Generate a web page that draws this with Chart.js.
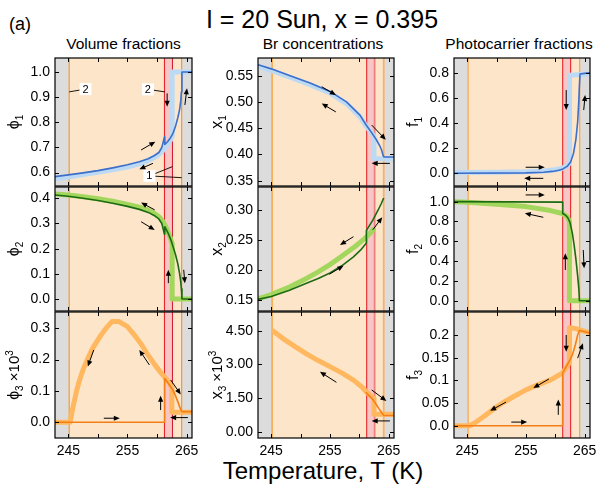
<!DOCTYPE html>
<html><head><meta charset="utf-8">
<script src="https://cdn.jsdelivr.net/npm/chart.js@4.4.1/dist/chart.umd.min.js"></script>
<style>
html,body{margin:0;padding:0;background:#fff;}
body{width:598px;height:487px;position:relative;overflow:hidden;font-family:"Liberation Sans",Arial,sans-serif;color:#000;}
.txt{position:absolute;transform:translate(-50%,-50%);white-space:nowrap;line-height:1;}
canvas{position:absolute;}
</style></head>
<body>
<div class="txt" style="left:20px;top:24px;font-size:18px;">(a)</div>
<div class="txt" style="left:322px;top:19px;font-size:25px;">I = 20 Sun, x = 0.395</div>
<div class="txt" style="left:123.5px;top:44px;font-size:15.5px;">Volume fractions</div>
<div class="txt" style="left:323px;top:44px;font-size:15.5px;">Br concentrations</div>
<div class="txt" style="left:519px;top:44px;font-size:15.5px;">Photocarrier fractions</div>
<div class="txt" style="left:323px;top:471px;font-size:24px;">Temperature, T (K)</div>
<script>
// ---------- data ----------
const Tmin = 242.75, Tmax = 265.9;
const xTickValues = [245, 250, 255, 260, 265];
const xTickLabels = ['245', '', '255', '', '265'];
const transitionT = [245.15, 261.25, 262.6, 264.15];

// volume fractions
const phi1HeatT = [242.75,245,247.5,250,252.5,255,257,258.5,259.5,260.3,260.8,261.25,261.3,261.8,262.3,262.7,263.1,263.5,263.8,264.0,264.1,264.2,265.9];
const phi1Heat  = [0.584,0.591,0.599,0.608,0.619,0.631,0.643,0.655,0.667,0.68,0.70,0.742,0.712,0.724,0.74,0.757,0.783,0.818,0.85,0.885,0.92,1.0,1.0];
const phi1CoolT = [242.75,245,247.5,250,252.5,255,257,258.5,259.5,260.3,261.0,261.6,262.2,262.55,262.55,265.9];
const phi1Cool  = [0.577,0.583,0.592,0.601,0.611,0.622,0.635,0.648,0.66,0.672,0.688,0.705,0.727,0.745,1.0,1.0];

const phi2HeatT = phi1HeatT;
const phi2Heat  = [0.413,0.408,0.4,0.391,0.38,0.368,0.356,0.344,0.332,0.318,0.300,0.257,0.287,0.265,0.237,0.208,0.178,0.14,0.102,0.068,0.04,0.0,0.0];
const phi2CoolT = [242.75,245,247.5,250,252.5,255,257,258.5,259.5,260.3,261.0,261.6,262.2,262.55,262.55,265.9];
const phi2Cool  = [0.417,0.413,0.406,0.398,0.388,0.376,0.365,0.353,0.341,0.327,0.307,0.28,0.245,0.22,0.0,0.0];

const phi3HeatT = [242.75,261.25,261.28,261.8,262.3,262.7,263.1,263.5,263.8,264.0,264.2,265.9];
const phi3Heat  = [0,0,0.14,0.127,0.113,0.102,0.085,0.066,0.05,0.04,0.034,0.034];
const phi3CoolT = [242.75,245.3,245.6,245.9,246.4,246.9,247.5,248.2,249.1,250.4,251.5,252.4,253.5,255,256.1,257.3,258.4,259.6,260.7,261.9,262.5,262.5,265.9];
const phi3Cool  = [0,0,0.03,0.058,0.1,0.135,0.168,0.2,0.236,0.275,0.303,0.322,0.322,0.305,0.28,0.25,0.217,0.184,0.157,0.13,0.112,0.032,0.032];

// Br concentrations
const x1HeatT = [242.75,245,248.2,251.6,255,257.8,260.1,261.1,262,262.9,263.5,263.8,264.05,264.2,265.9];
const x1Heat  = [0.571,0.563,0.55,0.536,0.52,0.5,0.475,0.457,0.443,0.428,0.416,0.408,0.398,0.395,0.395];
const x1CoolT = [242.75,245,248.2,251.6,255,257.8,260.1,261.1,262,262.5,262.5,265.9];
const x1Cool  = [0.568,0.56,0.547,0.533,0.517,0.497,0.472,0.455,0.442,0.434,0.392,0.392];

const x2HeatT = [242.75,245,248,251,253,255,257,259,260.2,261.2,261.2,262.3,263.2,263.7,264.15];
const x2Heat  = [0.151,0.156,0.166,0.178,0.186,0.195,0.207,0.222,0.233,0.245,0.266,0.283,0.3,0.31,0.32];
const x2CoolT = [242.75,245,248.2,251,253,255,257,259.5,261.1,262,262.5];
const x2Cool  = [0.152,0.159,0.172,0.186,0.197,0.209,0.223,0.241,0.254,0.263,0.27];

const x3HeatT = [261.1,261.6,262.1,262.5,262.9,263.3,263.7,264.0,264.2,265.9];
const x3Heat  = [1.76,1.62,1.49,1.36,1.2,1.04,0.89,0.78,0.72,0.72];
const x3CoolT = [245.15,247,249,251,253,255,257,259,260.5,261.1,261.8,262.5,262.5,265.9];
const x3Cool  = [4.52,4.15,3.8,3.47,3.17,2.9,2.62,2.3,1.98,1.8,1.63,1.48,0.78,0.78];

// photocarrier fractions
const f1HeatT = [242.75,255,258,259.5,260.6,261.3,262,262.6,263.1,263.5,263.8,264.0,264.1,264.2,265,265.9];
const f1Heat  = [0.0,0.003,0.008,0.015,0.024,0.035,0.055,0.09,0.16,0.27,0.41,0.58,0.7,0.79,0.795,0.8];
const f1CoolT = [242.75,250,255,258,260,261.3,262,262.4,262.4,265.9];
const f1Cool  = [0.006,0.008,0.012,0.018,0.028,0.042,0.06,0.078,0.78,0.79];

const f2HeatT = [242.75,261.25,261.25,261.7,262.1,262.5,262.9,263.2,263.5,263.8,264.0,264.1,265.9];
const f2Heat  = [1.0,0.995,0.88,0.865,0.84,0.79,0.68,0.56,0.42,0.25,0.12,0.0,0.0];
const f2CoolT = [242.75,245,250,255,259.2,261.2,262,262.4,262.4,265.9];
const f2Cool  = [1.0,0.995,0.975,0.95,0.91,0.88,0.85,0.8,0.0,0.0];

const f3HeatT = [242.75,261.25,261.25,262,262.5,262.9,263.4,263.8,264.1,265,265.9];
const f3Heat  = [0,0,0.116,0.134,0.145,0.156,0.178,0.2,0.21,0.207,0.204];
const f3CoolT = [242.75,245.4,246.5,248,249.5,251,253,255,257,259.2,261.2,262,262.4,262.4,263.5,264.2,265.9];
const f3Cool  = [0,0,0.008,0.022,0.037,0.05,0.065,0.079,0.09,0.101,0.116,0.13,0.14,0.216,0.214,0.211,0.205];

// y tick values and labels
const phi1Ticks = [0.6,0.7,0.8,0.9,1.0], phi1Labels = ['0.6','0.7','0.8','0.9','1.0'];
const phi2Ticks = [0,0.1,0.2,0.3,0.4],   phi2Labels = ['0.0','0.1','0.2','0.3','0.4'];
const phi3Ticks = [0,0.1,0.2,0.3],       phi3Labels = ['0.0','0.1','0.2','0.3'];
const x1Ticks = [0.35,0.40,0.45,0.50,0.55], x1Labels = ['0.35','0.40','0.45','0.50','0.55'];
const x2Ticks = [0.15,0.20,0.25,0.30],      x2Labels = ['0.15','0.20','0.25','0.30'];
const x3Ticks = [0,1.5,3,4.5],              x3Labels = ['0.00','1.50','3.00','4.50'];
const f1Ticks = [0,0.2,0.4,0.6,0.8],     f1Labels = ['0.0','0.2','0.4','0.6','0.8'];
const f2Ticks = [0,0.2,0.4,0.6,0.8,1.0], f2Labels = ['0.0','0.2','0.4','0.6','0.8','1.0'];
const f3Ticks = [0,0.05,0.1,0.15,0.2],   f3Labels = ['0.0','0.05','0.1','0.15','0.2'];

// annotation arrows [T1, v1, T2, v2]
const phi1Arrows = [[257.3,0.69,259.7,0.723],[259.3,0.637,257.0,0.613],[261.7,0.915,261.7,0.862],[264.7,0.869,265.05,0.935]];
const phi2Arrows = [[259.6,0.354,257.3,0.383],[257.3,0.307,259.6,0.274],[261.9,0.063,261.9,0.116],[264.5,0.116,264.7,0.063]];
const phi3Arrows = [[249.3,0.231,248.3,0.178],[258.7,0.183,257.0,0.231],[251.0,0.013,253.7,0.013],[260.6,0.039,260.6,0.085],[262.3,0.135,264.0,0.089],[265.2,0.015,262.2,0.015]];
const x1Arrows = [[253.6,0.529,256.0,0.513],[256.0,0.481,253.6,0.497],[262.1,0.456,264.5,0.428],[265.2,0.383,262.1,0.383]];
const x2Arrows = [[259.0,0.2555,256.7,0.2417],[254.9,0.193,257.3,0.207],[262.3,0.267,263.9,0.288]];
const x3Arrows = [[256.1,2.2,253.3,2.67],[262.1,1.86,264.6,1.37],[265.2,0.48,262.1,0.48]];
const f1Arrows = [[254.95,0.048,258.2,0.048],[257.95,-0.04,254.7,-0.04],[261.85,0.662,261.85,0.503],[264.83,0.503,265.07,0.622]];
const f2Arrows = [[254.95,1.068,258.2,1.068],[257.95,0.842,254.8,0.883],[261.7,0.31,261.7,0.479],[264.75,0.512,264.9,0.327]];
const f3Arrows = [[258.9,0.103,256.25,0.083],[251.6,0.052,248.9,0.033],[252.5,0.008,255.2,0.008],[260.5,0.024,260.5,0.058],[261.85,0.2,261.85,0.163],[263.8,0.149,264.7,0.182]];

// numbered labels in the first panel
const phi1Notes = [
  {text:'2', at:[247.9,0.932], to:[[245.15,0.921]]},
  {text:'2', at:[258.45,0.931], to:[[261.3,0.921]]},
  {text:'1', at:[258.7,0.587], to:[[262.6,0.624],[264.15,0.58]]}
];

// ---------- style / layout ----------
const FONT = '"Liberation Sans", Arial, "DejaVu Sans", sans-serif';
const C = {
  blue:'#3d6ec9', lblue:'#bddaf5', green:'#1c6b12', lgreen:'#a2d65c', orange:'#f57f17', lorange:'#ffb85f',
  gray:'#dcdcdc', peach:'#fde5c9', pink:'#f9c6c6'
};
const colL = [55, 258, 454], colR = [192, 394, 590];
const rowT = [58, 187, 312], rowB = [186, 311, 438];
const lineColors = [
  ['#f7941d','#e8262c','#d42036','#f7941d'],
  ['#f7941d','#e8262c','#f08080','#f7b26a'],
  ['#f7a040','#e8262c','#e8262c','#f7a040']
];
const AXW = 52, PADR = 16, PADTB = 16, XAXH = 30;

function pts(T, v){ return T.map((t,i)=>({x:t, y:v[i]})); }

const panels = [
  {col:0,row:0,min:0.5469,max:1.0556,ticks:phi1Ticks,labels:phi1Labels,title:[['ϕ',16],['1',10,4]],
   series:[[phi1HeatT,phi1Heat,C.blue,1.6],[phi1CoolT,phi1Cool,C.lblue,5]],arrows:phi1Arrows,notes:phi1Notes},
  {col:0,row:1,min:-0.0477,max:0.4449,ticks:phi2Ticks,labels:phi2Labels,title:[['ϕ',16],['2',10,4]],
   series:[[phi2HeatT,phi2Heat,C.green,1.6],[phi2CoolT,phi2Cool,C.lgreen,5]],arrows:phi2Arrows},
  {col:0,row:2,min:-0.0501,max:0.352,ticks:phi3Ticks,labels:phi3Labels,title:[['ϕ',16],['3',10,4],[' ×10',15],['3',10,-6]],
   series:[[phi3HeatT,phi3Heat,C.orange,1.6],[phi3CoolT,phi3Cool,C.lorange,5]],arrows:phi3Arrows},
  {col:1,row:0,min:0.3399,max:0.5837,ticks:x1Ticks,labels:x1Labels,title:[['x',16],['1',10,4]],
   series:[[x1HeatT,x1Heat,C.blue,1.6],[x1CoolT,x1Cool,C.lblue,5]],arrows:x1Arrows},
  {col:1,row:1,min:0.1317,max:0.3383,ticks:x2Ticks,labels:x2Labels,title:[['x',16],['2',10,4]],
   series:[[x2HeatT,x2Heat,C.green,1.6],[x2CoolT,x2Cool,C.lgreen,5]],arrows:x2Arrows},
  {col:1,row:2,min:-0.281,max:5.333,ticks:x3Ticks,labels:x3Labels,title:[['x',16],['3',10,4],[' ×10',15],['3',10,-6]],
   series:[[x3HeatT,x3Heat,C.orange,1.6],[x3CoolT,x3Cool,C.lorange,5]],arrows:x3Arrows},
  {col:2,row:0,min:-0.101,max:0.917,ticks:f1Ticks,labels:f1Labels,title:[['f',16],['1',10,4]],
   series:[[f1HeatT,f1Heat,C.blue,1.6],[f1CoolT,f1Cool,C.lblue,5]],arrows:f1Arrows},
  {col:2,row:1,min:-0.104,max:1.148,ticks:f2Ticks,labels:f2Labels,title:[['f',16],['2',10,4]],
   series:[[f2HeatT,f2Heat,C.green,1.6],[f2CoolT,f2Cool,C.lgreen,5]],arrows:f2Arrows},
  {col:2,row:2,min:-0.0271,max:0.2507,ticks:f3Ticks,labels:f3Labels,title:[['f',16],['3',10,4]],
   series:[[f3HeatT,f3Heat,C.orange,1.6],[f3CoolT,f3Cool,C.lorange,5]],arrows:f3Arrows}
];

function drawArrow(ctx, x1, y1, x2, y2){
  const a = Math.atan2(y2-y1, x2-x1), hl = 6, hw = 2.6;
  ctx.beginPath(); ctx.moveTo(x1,y1);
  ctx.lineTo(x2-hl*0.7*Math.cos(a), y2-hl*0.7*Math.sin(a)); ctx.stroke();
  ctx.beginPath(); ctx.moveTo(x2,y2);
  ctx.lineTo(x2-hl*Math.cos(a)+hw*Math.sin(a), y2-hl*Math.sin(a)-hw*Math.cos(a));
  ctx.lineTo(x2-hl*Math.cos(a)-hw*Math.sin(a), y2-hl*Math.sin(a)+hw*Math.cos(a));
  ctx.closePath(); ctx.fill();
}

function drawRich(ctx, cx, cy, parts){
  ctx.save(); ctx.translate(cx, cy); ctx.rotate(-Math.PI/2);
  ctx.textBaseline = 'alphabetic'; ctx.textAlign = 'left'; ctx.fillStyle = '#000';
  let total = 0; const w = [];
  parts.forEach((p,i)=>{ ctx.font = p[1]+'px '+FONT; w[i] = ctx.measureText(p[0]).width; total += w[i]; });
  let x = -total/2;
  parts.forEach((p,i)=>{ ctx.font = p[1]+'px '+FONT; ctx.fillText(p[0], x, 5 + (p[2]||0)); x += w[i]; });
  ctx.restore();
}

function makeDeco(p){
  const lc = lineColors[p.col];
  return {
    id:'deco'+p.col+p.row,
    beforeDatasetsDraw(chart){
      const {ctx, chartArea:{left,right,top,bottom}, scales:{x}} = chart;
      ctx.save();
      ctx.beginPath(); ctx.rect(left, top, right-left, bottom-top); ctx.clip();
      ctx.fillStyle = C.gray; ctx.fillRect(left, top, right-left, bottom-top);
      const px = transitionT.map(t=>x.getPixelForValue(t));
      ctx.fillStyle = C.peach; ctx.fillRect(px[0], top, px[3]-px[0], bottom-top);
      ctx.fillStyle = C.pink; ctx.fillRect(px[1], top, px[2]-px[1], bottom-top);
      px.forEach((xx,i)=>{
        ctx.strokeStyle = lc[i]; ctx.lineWidth = (p.col===1 && i>=2) ? 1.8 : 1.1;
        ctx.beginPath(); ctx.moveTo(xx, top); ctx.lineTo(xx, bottom); ctx.stroke();
      });
      ctx.restore();
    },
    afterDatasetsDraw(chart){
      const {ctx, chartArea:{left,right,top,bottom}, scales:{x,y}} = chart;
      ctx.save();
      ctx.strokeStyle = '#000'; ctx.fillStyle = '#000'; ctx.lineWidth = 1;
      (p.arrows||[]).forEach(a=>drawArrow(ctx, x.getPixelForValue(a[0]), y.getPixelForValue(a[1]), x.getPixelForValue(a[2]), y.getPixelForValue(a[3])));
      (p.notes||[]).forEach(n=>{
        const bx = x.getPixelForValue(n.at[0]), by = y.getPixelForValue(n.at[1]);
        ctx.lineWidth = 0.9; ctx.strokeStyle = '#000';
        n.to.forEach(t=>{ ctx.beginPath(); ctx.moveTo(bx,by); ctx.lineTo(x.getPixelForValue(t[0]), y.getPixelForValue(t[1])); ctx.stroke(); });
        ctx.fillStyle = '#fff'; ctx.fillRect(bx-6, by-6, 12, 12);
        ctx.fillStyle = '#000'; ctx.font = '11px '+FONT; ctx.textAlign = 'center'; ctx.textBaseline = 'middle';
        ctx.fillText(n.text, bx, by+0.5);
      });
      // frame
      ctx.strokeStyle = '#000'; ctx.lineWidth = 1.2;
      ctx.strokeRect(left, top, right-left, bottom-top);
      // inward ticks
      ctx.lineWidth = 1; ctx.beginPath();
      xTickValues.forEach(v=>{ const xx = Math.round(x.getPixelForValue(v))+0.5;
        ctx.moveTo(xx, top); ctx.lineTo(xx, top+4); ctx.moveTo(xx, bottom); ctx.lineTo(xx, bottom-4); });
      p.ticks.forEach(v=>{ const yy = Math.round(y.getPixelForValue(v))+0.5;
        ctx.moveTo(left, yy); ctx.lineTo(left+4, yy); ctx.moveTo(right, yy); ctx.lineTo(right-4, yy); });
      ctx.stroke();
      ctx.restore();
      drawRich(ctx, left-41, (top+bottom)/2, p.title);
    }
  };
}

panels.forEach(p=>{
  const L = colL[p.col], R = colR[p.col], T = rowT[p.row], B = rowB[p.row];
  const bottomRow = p.row === 2;
  const cv = document.createElement('canvas');
  const W = AXW + (R-L) + PADR;
  const H = PADTB + (B-T) + (bottomRow ? XAXH : PADTB);
  cv.width = W; cv.height = H;
  cv.style.left = (L-AXW)+'px'; cv.style.top = (T-PADTB)+'px';
  cv.style.width = W+'px'; cv.style.height = H+'px';
  document.body.appendChild(cv);
  const datasets = p.series.map((s,i)=>({
    data: pts(s[0], s[1]), showLine:true, borderColor:s[2], backgroundColor:s[2],
    borderWidth:s[3], pointRadius:0, fill:false, tension:0, order:i,
    borderJoinStyle:'round', borderCapStyle:'butt'
  }));
  new Chart(cv, {
    type:'scatter',
    data:{datasets},
    options:{
      responsive:false, maintainAspectRatio:false, animation:false, devicePixelRatio:1,
      layout:{padding:{left:0, right:PADR, top:PADTB, bottom:bottomRow?0:PADTB}},
      plugins:{legend:{display:false}, tooltip:{enabled:false}},
      scales:{
        x:{type:'linear', min:Tmin, max:Tmax, display:bottomRow,
           grid:{display:false, drawTicks:false}, border:{display:false},
           ticks:{font:{size:14, family:FONT}, color:'#000', padding:5, maxRotation:0, autoSkip:false,
                  callback:(v,i)=>xTickLabels[i]},
           afterBuildTicks:s=>{ s.ticks = xTickValues.map(v=>({value:v})); },
           afterFit:s=>{ if (bottomRow) s.height = XAXH; }},
        y:{type:'linear', min:p.min, max:p.max,
           grid:{display:false, drawTicks:false}, border:{display:false},
           ticks:{font:{size:14, family:FONT}, color:'#000', padding:5, autoSkip:false,
                  callback:(v,i)=>p.labels[i]},
           afterBuildTicks:s=>{ s.ticks = p.ticks.map(v=>({value:v})); },
           afterFit:s=>{ s.width = AXW; }}
      }
    },
    plugins:[makeDeco(p)]
  });
});
</script>
</body></html>
